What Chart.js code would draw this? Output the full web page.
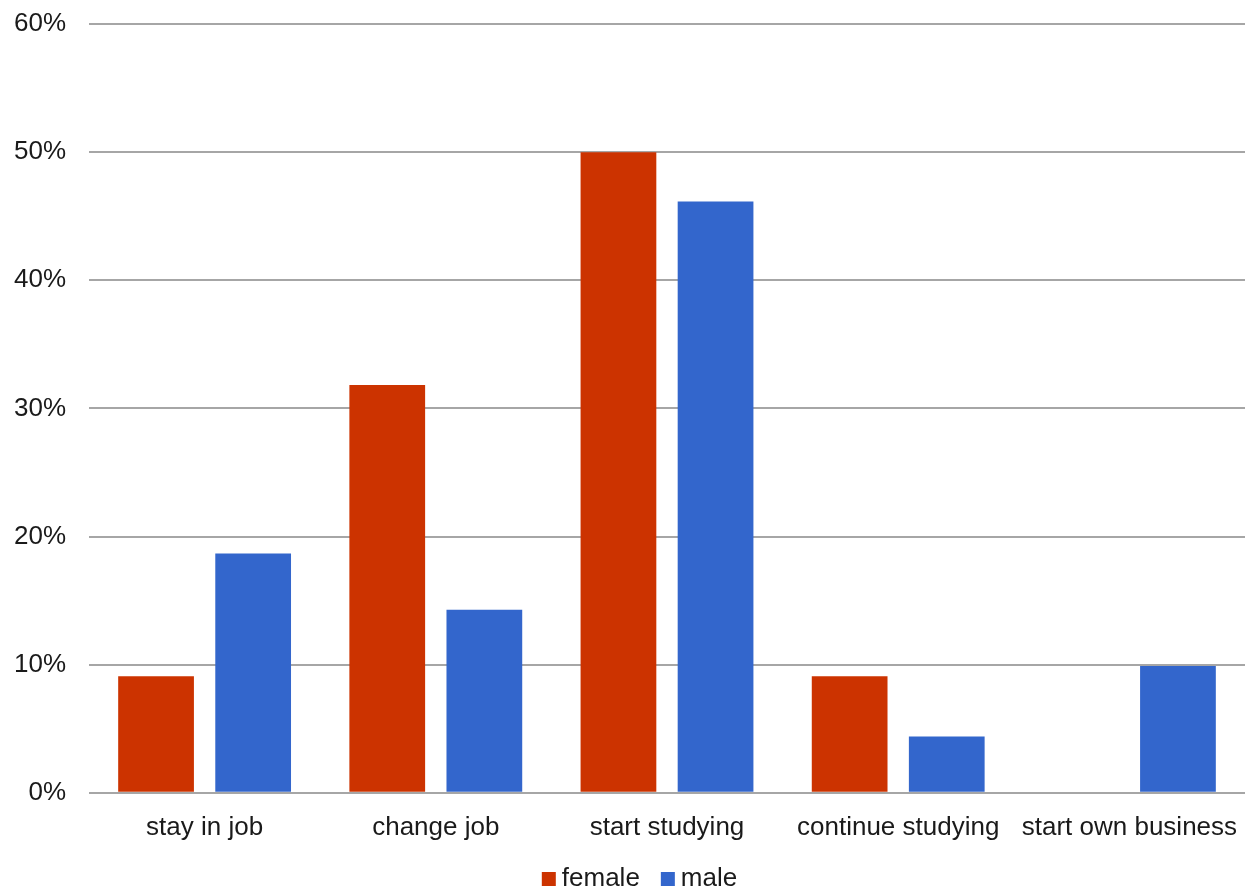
<!DOCTYPE html>
<html>
<head>
<meta charset="utf-8">
<script src="https://cdn.jsdelivr.net/npm/chart.js@4.4.1/dist/chart.umd.min.js"></script>
<style>
  html, body { margin: 0; padding: 0; background: #ffffff; }
  #wrap { width: 1245px; height: 890px; }
</style>
</head>
<body>
<div id="wrap"><canvas id="chart" width="1245" height="890"></canvas></div>
<script>
// Plans after the course, share of respondents by gender (%)
const categories = ['stay in job', 'change job', 'start studying', 'continue studying', 'start own business'];
const female = [9.09, 31.82, 50.0, 9.09, 0];
const male = [18.68, 14.29, 46.15, 4.40, 9.89];
const yTicks = [0, 10, 20, 30, 40, 50, 60];

const FONT = '"Liberation Sans", Arial, Helvetica, sans-serif';
const TEXT = '#1a1a1a';

// Legend drawn below the axis: square swatch, label, items side by side
const bottomLegend = {
  id: 'bottomLegend',
  afterDraw(chart, args, opts) {
    const ctx = chart.ctx;
    ctx.save();
    ctx.font = opts.size + 'px ' + FONT;
    const items = chart.data.datasets.map(ds => ({
      text: ds.label,
      color: ds.backgroundColor,
      w: ctx.measureText(ds.label).width
    }));
    const total = items.reduce((s, it) => s + opts.box + opts.gap + it.w, 0) + opts.spacing * (items.length - 1);
    let x = opts.centerX - total / 2;
    const base = chart.height - opts.bottom;
    ctx.textBaseline = 'alphabetic';
    ctx.textAlign = 'left';
    items.forEach(it => {
      ctx.fillStyle = it.color;
      ctx.fillRect(x, base - opts.box, opts.box, opts.box);
      x += opts.box + opts.gap;
      ctx.fillStyle = TEXT;
      ctx.fillText(it.text, x, base);
      x += it.w + opts.spacing;
    });
    ctx.restore();
  }
};

new Chart(document.getElementById('chart'), {
  type: 'bar',
  data: {
    labels: categories,
    datasets: [
      { label: 'female', data: female, backgroundColor: '#cc3300', borderWidth: 0 },
      { label: 'male', data: male, backgroundColor: '#3366cc', borderWidth: 0 }
    ]
  },
  options: {
    responsive: false,
    animation: false,
    devicePixelRatio: 1,
    categoryPercentage: 0.84,
    barPercentage: 0.78,
    layout: { padding: { top: 24, left: 14, right: 0, bottom: 28 } },
    plugins: {
      legend: { display: false },
      tooltip: { enabled: false },
      bottomLegend: { size: 26, box: 14, gap: 6, spacing: 21, centerX: 639.5, bottom: 4 }
    },
    scales: {
      x: {
        grid: { display: false, drawTicks: false },
        border: { display: false },
        ticks: { color: TEXT, font: { family: FONT, size: 26 }, padding: 19, maxRotation: 0, autoSkip: false },
        afterFit(scale) { scale.paddingLeft = 0; scale.paddingRight = 0; }
      },
      y: {
        min: 0,
        max: 60,
        afterBuildTicks(scale) { scale.ticks = yTicks.map(v => ({ value: v })); },
        afterFit(scale) { scale.width = 75; scale.paddingTop = 0; scale.paddingBottom = 0; },
        grid: { color: '#a6a6a6', lineWidth: 2, drawTicks: false },
        border: { display: false },
        ticks: {
          color: TEXT,
          font: { family: FONT, size: 26 },
          padding: 23,
          callback: v => v + '%'
        }
      }
    }
  },
  plugins: [bottomLegend]
});
</script>
</body>
</html>
